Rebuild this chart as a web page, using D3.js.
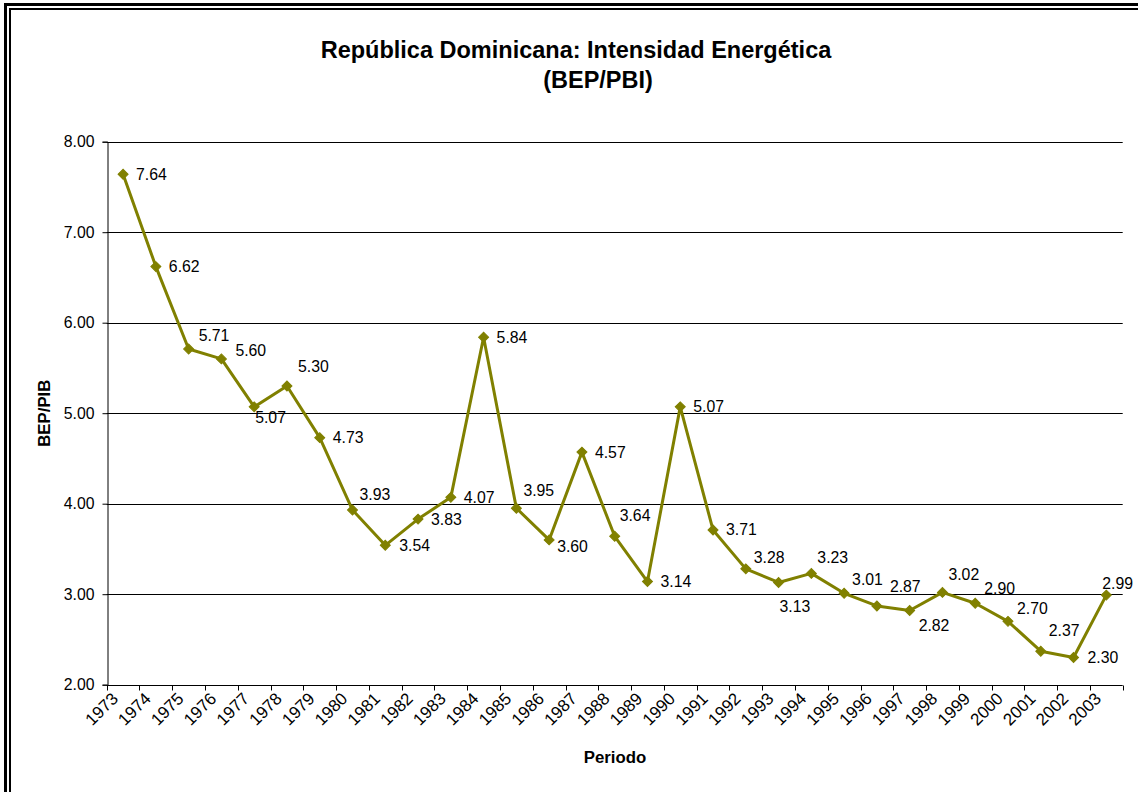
<!DOCTYPE html>
<html>
<head>
<meta charset="utf-8">
<script src="https://cdn.jsdelivr.net/npm/d3@7"></script>
<style>
  html, body { margin: 0; padding: 0; background: #fff; }
  svg { display: block; font-family: Arial, "Liberation Sans", sans-serif; }
</style>
</head>
<body>
<svg id="chart" width="1138" height="792"></svg>
<script>
// ---- data ----
const years = ["1973","1974","1975","1976","1977","1978","1979","1980","1981","1982",
  "1983","1984","1985","1986","1987","1988","1989","1990","1991","1992","1993","1994",
  "1995","1996","1997","1998","1999","2000","2001","2002","2003"];
const intensity = [7.64,6.62,5.71,5.60,5.07,5.30,4.73,3.93,3.54,3.83,4.07,5.84,3.95,3.60,
  4.57,3.64,3.14,5.07,3.71,3.28,3.13,3.23,3.01,2.87,2.82,3.02,2.90,2.70,2.37,2.30,2.99];
const yTicks = [2,3,4,5,6,7,8];
const titleLines = ["República Dominicana: Intensidad Energética", "(BEP/PBI)"];
const yTitle = "BEP/PIB";
const xTitle = "Periodo";

// label placement (offsets from the point, in px) — styling, not data
const labelOffsets = [
  [13,0],[13,0],[10,-13],[14,-8],[1,11],[11,-20],[13,0],[7,-16],[14,0],[13,0],
  [13,0],[13,0],[7,-18],[8,7],[13,0],[5,-21],[13,0],[13,0],[13,0],[8,-11],
  [1,24],[6,-16],[8,-14],[13,-19],[9,15],[6,-18],[9,-15],[9,-13],[8,-21],[14,0],[-4,-12]
];

// ---- layout ----
const svg = d3.select("#chart");
const olive = "#808000";
const pL = 106.7, pR = 1122.7, pT = 141.7, pB = 684.7;
const fs = 15.8;

// frame (double border)
svg.append("rect").attr("x",5.5).attr("y",4.5).attr("width",1200).attr("height",900)
  .attr("fill","none").attr("stroke","#000").attr("stroke-width",3);
svg.append("rect").attr("x",10).attr("y",9).attr("width",1200).attr("height",900)
  .attr("fill","none").attr("stroke","#000").attr("stroke-width",2);

const x = d3.scaleBand().domain(years).range([pL, pR]).paddingInner(0).paddingOuter(0);
const y = d3.scaleLinear().domain([2, 8]).range([pB, pT]);

// gridlines
svg.append("g").selectAll("line").data(yTicks.filter(d => d > 2)).join("line")
  .attr("x1", pL).attr("x2", pR)
  .attr("y1", d => Math.round(y(d)) + 0.5).attr("y2", d => Math.round(y(d)) + 0.5)
  .attr("stroke", "#000").attr("stroke-width", 1);

// y axis
const yAxis = d3.axisLeft(y).tickValues(yTicks).tickFormat(d3.format(".2f")).tickSize(5).tickPadding(8);
const gy = svg.append("g").attr("transform", `translate(${Math.round(pL)+0.5},0)`).call(yAxis);
gy.select(".domain").attr("stroke","#000");
gy.selectAll(".tick line").attr("stroke","#000");
gy.selectAll(".tick text").attr("font-size", fs).attr("fill","#000")
  .attr("font-family","Arial, 'Liberation Sans', sans-serif");

// x axis: ticks at category boundaries
const xAxis = d3.axisBottom(x).tickSize(0).tickFormat("");
const gx = svg.append("g").attr("transform", `translate(0,${Math.round(pB)+0.5})`).call(xAxis);
gx.select(".domain").attr("stroke","#000").attr("d", `M${pL},0H${pR}`);
gx.selectAll(".tick").remove();
const boundaries = years.map(d => x(d)).concat([x(years[years.length-1]) + x.bandwidth()]);
gx.selectAll("line.bt").data(boundaries).join("line").attr("class","bt")
  .attr("x1", d => Math.round(d)+0.5).attr("x2", d => Math.round(d)+0.5)
  .attr("y1", 0).attr("y2", 5).attr("stroke","#000");

// x labels rotated -45
svg.append("g").selectAll("text").data(years).join("text")
  .attr("transform", d => `translate(${x(d) + x.bandwidth()/2 - 4},${pB + 15}) rotate(-45)`)
  .attr("text-anchor","end").attr("font-size",17).attr("fill","#000")
  .text(d => d);

// line
const cx = (d,i) => x(years[i]) + x.bandwidth()/2;
const line = d3.line().x((d,i) => cx(d,i)).y(d => y(d));
svg.append("path").datum(intensity).attr("d", line)
  .attr("fill","none").attr("stroke", olive).attr("stroke-width", 3).attr("stroke-linejoin","round");

// diamonds
const sym = d3.symbol().type(d3.symbolSquare).size(50);
svg.append("g").selectAll("path").data(intensity).join("path")
  .attr("d", sym)
  .attr("transform", (d,i) => `translate(${cx(d,i)},${y(d)}) rotate(45)`)
  .attr("fill", olive).attr("stroke", olive).attr("stroke-width", 1);

// data labels
svg.append("g").selectAll("text").data(intensity).join("text")
  .attr("x", (d,i) => cx(d,i) + labelOffsets[i][0])
  .attr("y", (d,i) => y(d) + labelOffsets[i][1])
  .attr("dy", "0.35em").attr("font-size", fs).attr("fill","#000")
  .text(d => d.toFixed(2));

// titles
svg.append("text").attr("x", 576).attr("y", 58).attr("text-anchor","middle")
  .attr("font-size", 23.5).attr("font-weight","bold").text(titleLines[0]);
svg.append("text").attr("x", 598).attr("y", 88).attr("text-anchor","middle")
  .attr("font-size", 23.5).attr("font-weight","bold").text(titleLines[1]);

// axis titles
svg.append("text").attr("transform", `translate(50,${(pT+pB)/2}) rotate(-90)`)
  .attr("text-anchor","middle").attr("font-size",16.8).attr("font-weight","bold").text(yTitle);
svg.append("text").attr("x", 615).attr("y", 763).attr("text-anchor","middle")
  .attr("font-size",16.8).attr("font-weight","bold").text(xTitle);
</script>
</body>
</html>
